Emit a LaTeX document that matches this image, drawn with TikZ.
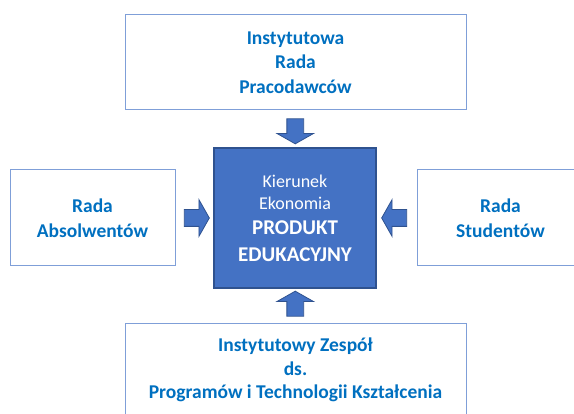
\documentclass[tikz,border=0pt]{standalone}
\usepackage{fontspec}
\setmainfont{Carlito}
\usetikzlibrary{calc,shapes.arrows}
\definecolor{textblue}{HTML}{0070C0}
\definecolor{boxline}{HTML}{7F9FD8}
\definecolor{fillblue}{HTML}{4472C4}
\definecolor{darkline}{HTML}{2F528F}

\begin{document}
\begin{tikzpicture}[x=1pt,y=-1pt,
  radabox/.style={draw=boxline,line width=1pt,fill=white,align=center,inner sep=0pt,
    text=textblue,font=\fontsize{19.5}{24.5}\selectfont\bfseries},
  centerbox/.style={draw=darkline,line width=1.2pt,fill=fillblue,align=center,inner sep=0pt,
    text=white,font=\fontsize{18}{22}\selectfont},
  blockarrow/.style={single arrow,draw=darkline,fill=fillblue,line width=0.8pt,inner xsep=0pt,inner ysep=8pt,
    minimum height=25pt,single arrow head extend=10pt,single arrow tip angle=121}]
\useasboundingbox (0,0) rectangle (574,414);
\clip (0,0) rectangle (574,414);

% boxes
\node[radabox,minimum width=341pt,minimum height=95pt] (pracodawcy) at (295.5,62.5)
  {Instytutowa\\Rada\\Pracodawców};
\node[radabox,minimum width=165pt,minimum height=96pt] (absolwenci) at (92.5,218)
  {Rada\\Absolwentów};
\node[radabox,minimum width=167pt,minimum height=96pt] (studenci) at (500.5,218)
  {Rada\\Studentów};
\node[radabox,minimum width=341pt,minimum height=92pt,font=\fontsize{19.5}{23.5}\selectfont\bfseries] (zespol) at (295.5,370)
  {Instytutowy Zespół\\ds.\\Programów i Technologii Kształcenia};
\node[centerbox,minimum width=162pt,minimum height=140pt] (produkt) at (295,218)
  {Kierunek\\Ekonomia\\[3pt]{\fontsize{21}{22}\selectfont\bfseries PRODUKT}\\[5pt]{\fontsize{21}{22}\selectfont\bfseries EDUKACYJNY}};

% arrows
\node[blockarrow,rotate=-90] (strzalkaGora) at ($(pracodawcy.south)!0.5!(produkt.north)$) {};
\node[blockarrow,rotate=90] (strzalkaDol) at ($(zespol.north)!0.5!(produkt.south)$) {};
\node[blockarrow] (strzalkaLewa) at ($(absolwenci.east)!0.5!(produkt.west)$) {};
\node[blockarrow,rotate=180] (strzalkaPrawa) at ($(studenci.west)!0.5!(produkt.east)$) {};

\end{tikzpicture}
\end{document}
